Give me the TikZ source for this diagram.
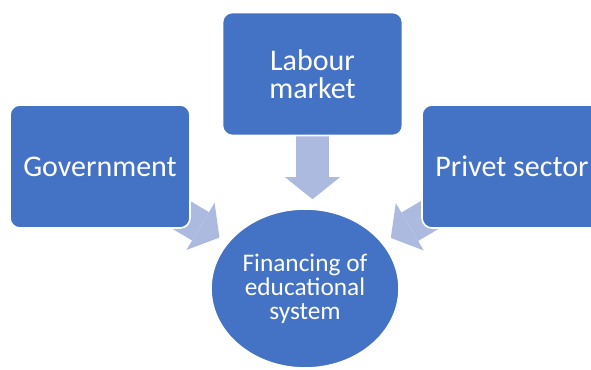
\documentclass[tikz,border=0pt]{standalone}
\usepackage{fontspec}
\setmainfont{Carlito}
\usetikzlibrary{arrows.meta,calc,backgrounds,shapes.geometric}

\definecolor{boxblue}{RGB}{68,114,196}
\definecolor{arrowblue}{RGB}{172,186,223}

\tikzset{every picture/.style={line width=0.75pt}}
\tikzset{
  boxnode/.style={draw=white, line width=1.2pt, fill=boxblue, text=white, rounded corners=7.5pt,
    minimum width=135pt, minimum height=92.25pt, inner sep=0pt, align=center,
    font=\fontsize{22.5}{21.4}\selectfont},
  finnode/.style={ellipse, draw=white, line width=1.2pt, fill=boxblue, text=white,
    minimum width=141pt, minimum height=119.25pt, inner sep=0pt, align=center,
    font=\fontsize{19}{18}\selectfont},
  fatarrow/.style={draw=arrowblue, line width=24.75pt,
    -{Triangle[width=41.25pt,length=16.5pt,line width=0pt]}}
}

\begin{document}
\begin{tikzpicture}[x=0.75pt,y=0.75pt,yscale=-1,xscale=1]
\useasboundingbox (0,0) rectangle (591,370);
\clip (0,0) rectangle (591,370);

%Shape: Rounded Rect [Government]
\node [boxnode] (gov) at (100,166.5) {Government};
%Shape: Rounded Rect [Labour market]
\node [boxnode] (lab) at (312.5,74) {Labour\\market};
%Shape: Rounded Rect [Privet sector]
\node [boxnode] (priv) at (512,166.5) {Privet sector};
%Shape: Ellipse [Financing]
\node [finnode] (fin) at (305,288.5) {Financing of\\educational\\system};

%Block Arrows
\begin{scope}[on background layer]
\draw [fatarrow] (gov.center) -- ($(fin.center)!74.7pt!(gov.center)$);
\draw [fatarrow] (lab.center) -- ($(lab.center |- fin.north)+(0,-9)$);
\draw [fatarrow] (priv.center) -- ($(fin.center)!74.7pt!(priv.center)$);
\end{scope}

\end{tikzpicture}
\end{document}
